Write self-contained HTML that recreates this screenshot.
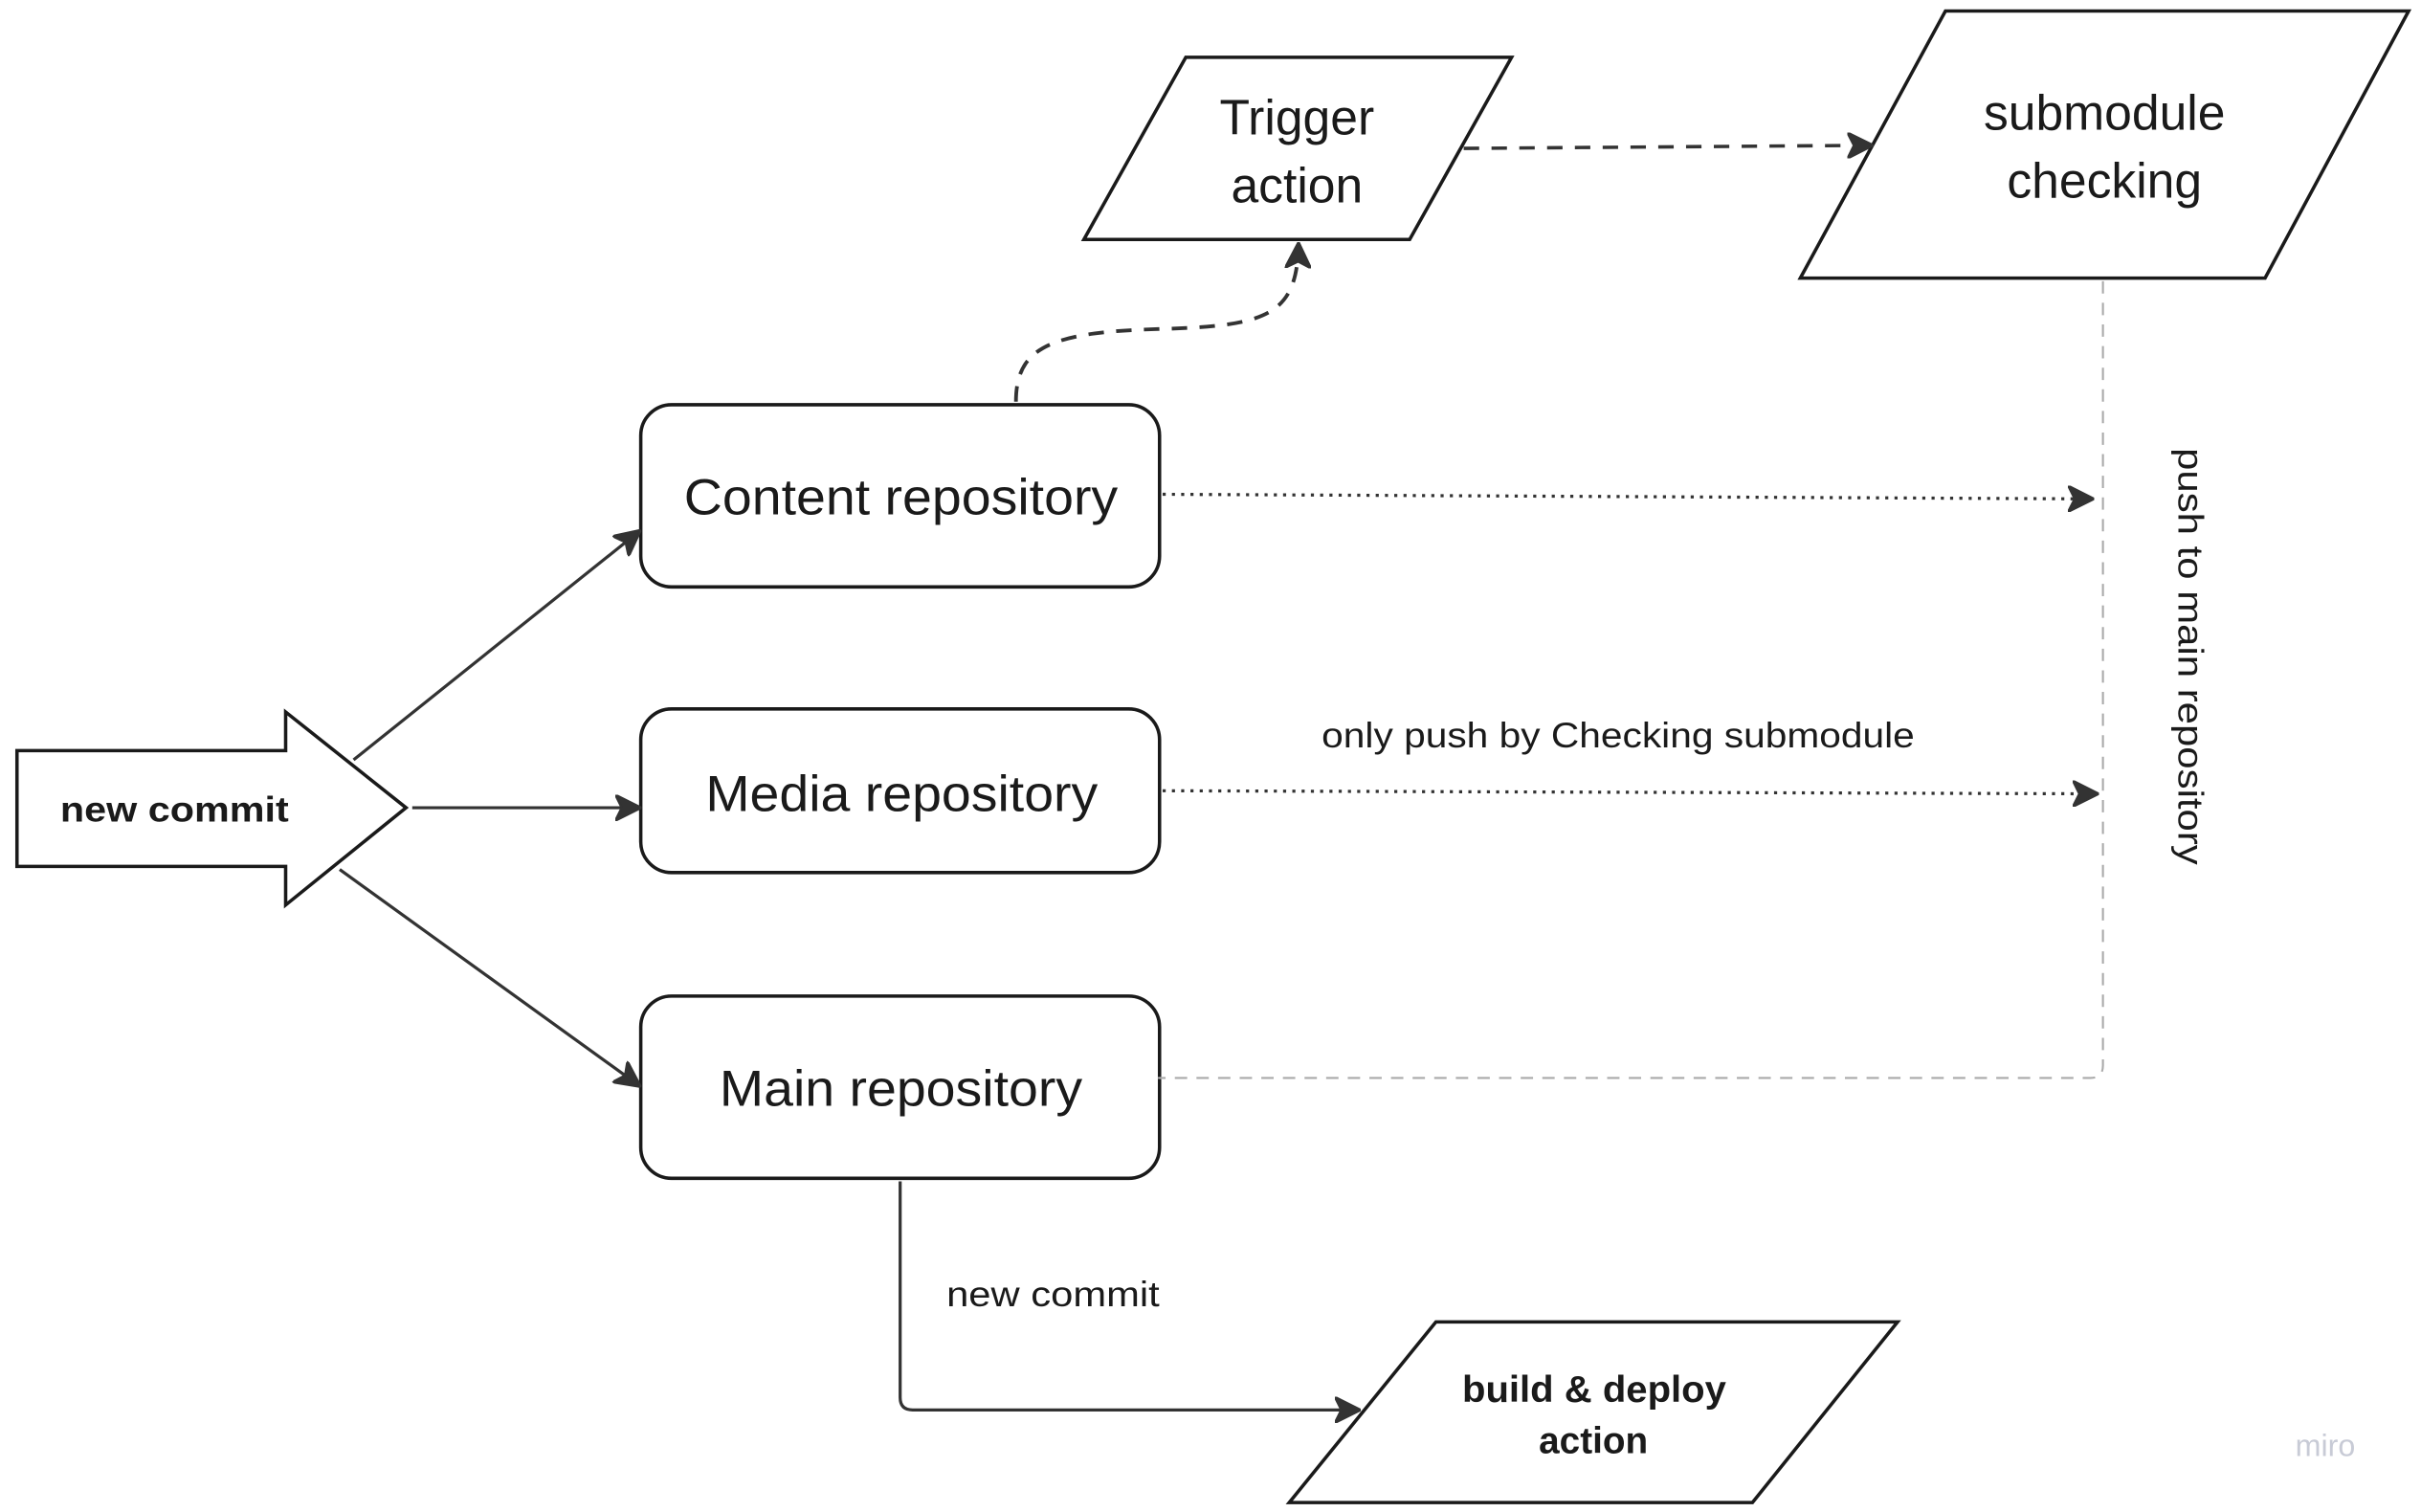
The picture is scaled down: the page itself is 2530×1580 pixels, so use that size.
<!DOCTYPE html>
<html><head><meta charset="utf-8"><style>
html,body{margin:0;padding:0;background:#fff;}
svg{display:block;}
text{font-family:"Liberation Sans","DejaVu Sans",sans-serif;fill:#1a1a1a;}
</style></head><body>
<svg width="2530" height="1580" viewBox="0 0 1568 979" xmlns="http://www.w3.org/2000/svg">
<defs>
<marker id="a" viewBox="0 0 12 12" refX="11" refY="6" markerWidth="17" markerHeight="17" markerUnits="userSpaceOnUse" orient="auto">
<path d="M0,0 L12,6 L0,12 L3,6 Z" fill="#333" stroke="#333" stroke-width="1" stroke-linejoin="round"/>
</marker>
</defs>
<rect width="1568" height="979" fill="#fff"/>
<g fill="#fff" stroke="#1a1a1a" stroke-width="2.2" stroke-linejoin="miter">
<polygon points="11,486 185,486 185,461 263,523 185,586 185,561 11,561"/>
<rect x="415" y="262" width="336" height="118" rx="20"/>
<rect x="415" y="459" width="336" height="106" rx="20"/>
<rect x="415" y="645" width="336" height="118" rx="20"/>
<polygon points="702,155 768,37 979,37 913,155"/>
<polygon points="1166,180 1260,7 1560,7 1467,180"/>
<polygon points="835,973 930,856 1229,856 1135,973"/>
</g>
<g fill="none" stroke="#333" stroke-width="2">
<line x1="229" y1="492" x2="414" y2="344" marker-end="url(#a)"/>
<line x1="267" y1="523" x2="414" y2="523" marker-end="url(#a)"/>
<line x1="220" y1="563" x2="414" y2="703" marker-end="url(#a)"/>
<path d="M658,260 C658,225 680,215 750,213 C820,211 840,205 841,158" stroke-dasharray="10,8" stroke-width="2.4" marker-end="url(#a)"/>
<line x1="948" y1="96" x2="1212" y2="94" stroke-dasharray="10,8" stroke-width="2.2" marker-end="url(#a)"/>
<line x1="753" y1="320" x2="1355" y2="323" stroke-dasharray="2,4" stroke-width="2" marker-end="url(#a)"/>
<line x1="753" y1="512" x2="1358" y2="514" stroke-dasharray="2,4" stroke-width="2" marker-end="url(#a)"/>
<path d="M583,765 L583,905 Q583,913 591,913 L880,913" marker-end="url(#a)"/>
<path d="M1362,182 L1362,690 Q1362,698 1354,698 L750,698" stroke="#aaa" stroke-width="1.3" stroke-dasharray="8,6"/>
</g>
<text x="39" y="532" font-size="23" font-weight="bold" textLength="148" lengthAdjust="spacingAndGlyphs">new commit</text>
<text x="443" y="333" font-size="33" textLength="281" lengthAdjust="spacingAndGlyphs">Content repository</text>
<text x="457" y="525" font-size="33" textLength="254" lengthAdjust="spacingAndGlyphs">Media repository</text>
<text x="466" y="716" font-size="33" textLength="235" lengthAdjust="spacingAndGlyphs">Main repository</text>
<text x="840" y="87" font-size="32" text-anchor="middle">Trigger</text>
<text x="840" y="131" font-size="32" text-anchor="middle">action</text>
<text x="1363" y="84" font-size="32" text-anchor="middle">submodule</text>
<text x="1363" y="128" font-size="32" text-anchor="middle">checking</text>
<text x="947" y="908" font-size="24" font-weight="bold" textLength="171" lengthAdjust="spacingAndGlyphs">build &amp; deploy</text>
<text x="1032" y="941" font-size="24" font-weight="bold" text-anchor="middle">action</text>
<text x="856" y="484" font-size="23" textLength="384" lengthAdjust="spacingAndGlyphs">only push by Checking submodule</text>
<text x="613" y="846" font-size="23" textLength="138" lengthAdjust="spacingAndGlyphs">new commit</text>
<text transform="translate(1411,290) rotate(90)" font-size="23" textLength="270" lengthAdjust="spacingAndGlyphs">push to main repository</text>
<text x="1506" y="943" font-size="20" text-anchor="middle" style="fill:#c8cbd6">miro</text>
</svg>
</body></html>
